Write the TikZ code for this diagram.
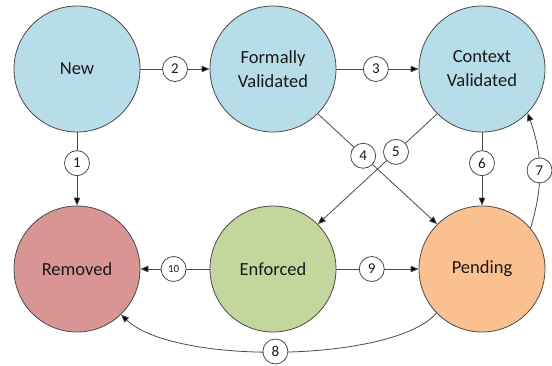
\documentclass[tikz,border=0pt]{standalone}
\usepackage{fontspec}
\setmainfont{Carlito}
\usetikzlibrary{arrows.meta}
\definecolor{cblue}{HTML}{B7DDE8}
\definecolor{cred}{HTML}{D99594}
\definecolor{cgreen}{HTML}{C3D69B}
\definecolor{corange}{HTML}{FAC090}
\definecolor{cline}{HTML}{4A4A4A}
\definecolor{ctext}{HTML}{1A1A1A}
\tikzset{
  state/.style={circle, draw=cline, line width=0.8bp, minimum size=126bp, inner sep=0pt,
    align=center, text=ctext, font=\fontsize{18.5bp}{24bp}\selectfont},
  lab/.style={circle, draw=cline, fill=white, line width=0.8bp, minimum size=25bp, inner sep=0pt,
    text=ctext, font=\fontsize{15bp}{15bp}\selectfont},
  smalllab/.style={lab, font=\fontsize{11bp}{11bp}\selectfont},
  conn/.style={draw=cline, line width=0.8bp, -{Triangle[length=8bp,width=6.5bp,fill=black]}}
}
\begin{document}
\begin{tikzpicture}[x=1bp,y=1bp]
\useasboundingbox (0,0) rectangle (552,-365);
\node[state, fill=cblue] (new) at (77,-69) {New};
\node[state, fill=cblue] (form) at (273,-69) {Formally\\Validated};
\node[state, fill=cblue] (ctx) at (482,-69) {Context\\Validated};
\node[state, fill=cred] (rem) at (77,-269) {Removed};
\node[state, fill=cgreen] (enf) at (273,-269) {Enforced};
\node[state, fill=corange] (pend) at (482,-269) {Pending};

\draw[conn] (new) -- node[lab, pos=0.42] (l1) {1} (rem);
\draw[conn] (new) -- node[lab, pos=0.5] (l2) {2} (form);
\draw[conn] (form) -- node[lab, pos=0.48] (l3) {3} (ctx);
\draw[conn] (form.-45) -- node[lab, pos=0.38] (l4) {4} (pend.135);
\draw[conn] (ctx.225) -- node[lab, pos=0.345] (l5) {5} (enf.45);
\draw[conn] (ctx) -- node[lab, pos=0.42] (l6) {6} (pend);
\draw[conn] (pend.40) to[bend right=18] node[lab, pos=0.5] (l7) {7} (ctx.-44);
\draw[conn] (pend.224) .. controls (395,-362) and (175,-366) .. node[lab, pos=0.52] (l8) {8} (rem.-46);
\draw[conn] (enf) -- node[lab, pos=0.43] (l9) {9} (pend);
\draw[conn] (enf) -- node[smalllab, pos=0.52] (l10) {10} (rem);
\end{tikzpicture}
\end{document}
